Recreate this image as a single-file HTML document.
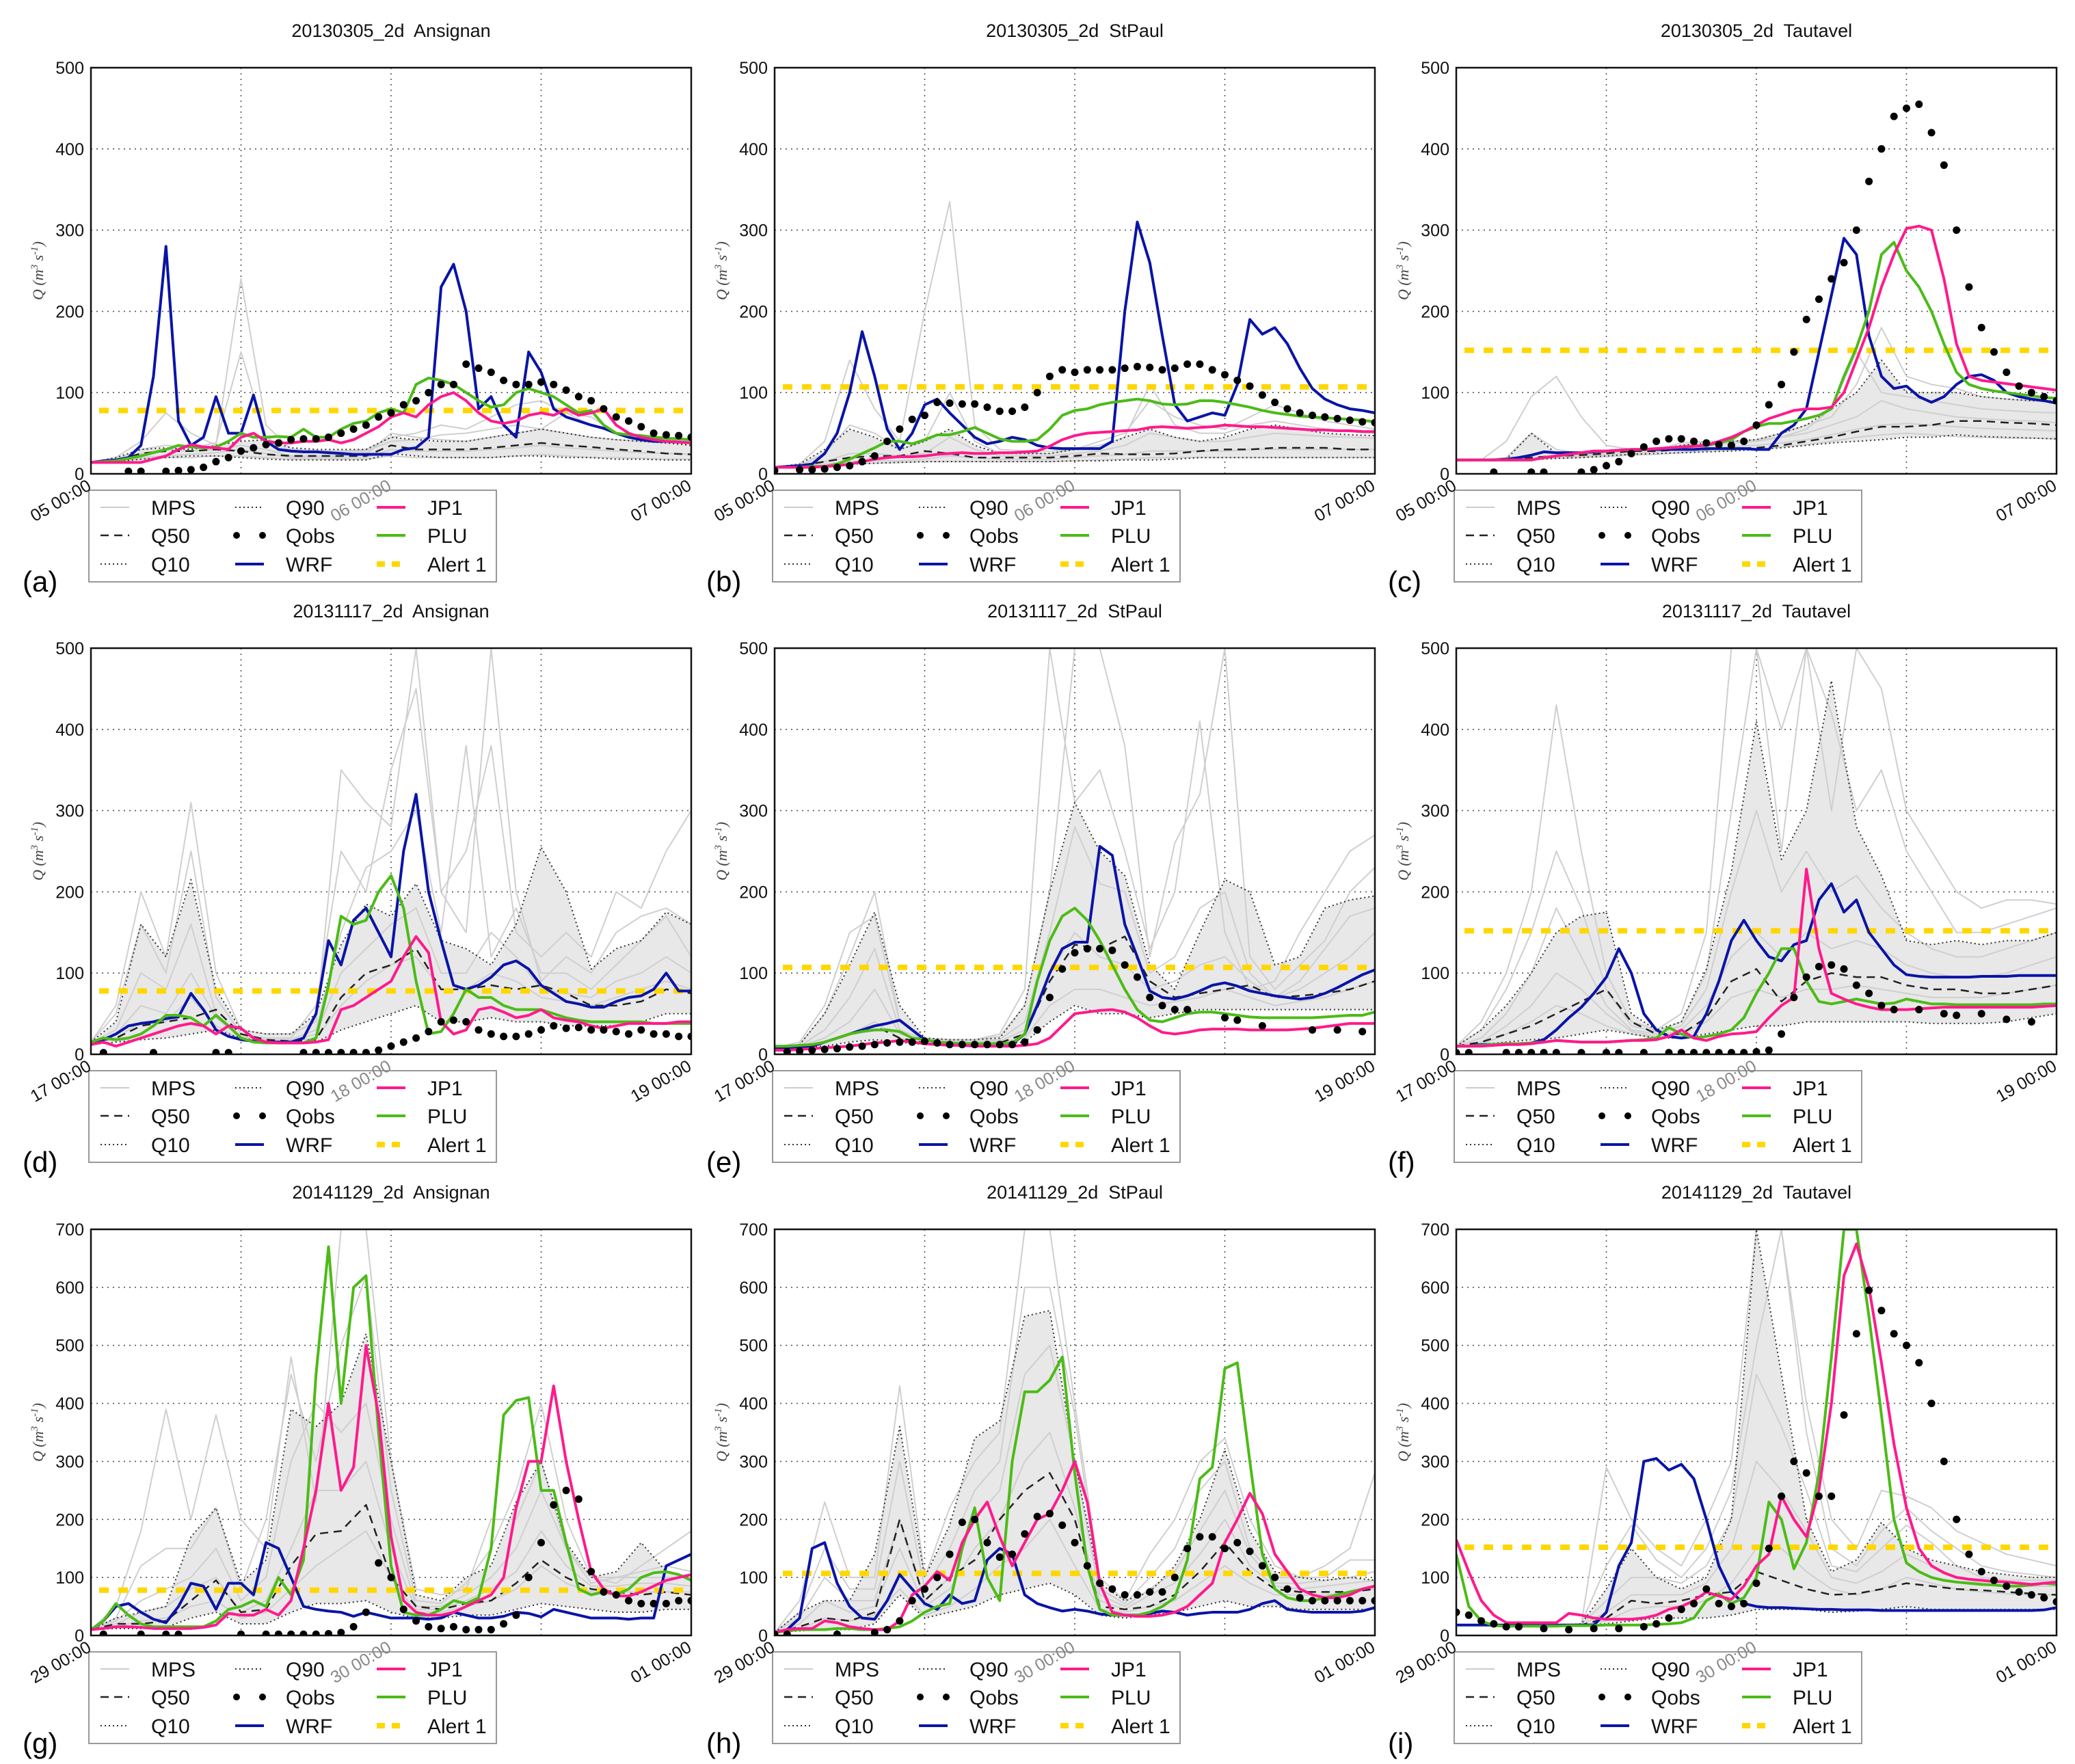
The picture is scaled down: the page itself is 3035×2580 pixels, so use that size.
<!DOCTYPE html>
<html><head><meta charset="utf-8">
<style>
html,body{margin:0;padding:0;background:#fff;}
svg{display:block;font-family:"Liberation Sans",sans-serif;}
</style></head>
<body>
<svg id="chart" xmlns="http://www.w3.org/2000/svg" width="3035" height="2580" viewBox="0 0 3035 2580"></svg>
<script>
// ---------- data (hourly lines: 49 values over 48 h; ensemble: 25 values, 2 h step) ----------
const titles = ["20130305_2d\u00a0 Ansignan","20130305_2d\u00a0 StPaul","20130305_2d\u00a0 Tautavel","20131117_2d\u00a0 Ansignan","20131117_2d\u00a0 StPaul","20131117_2d\u00a0 Tautavel","20141129_2d\u00a0 Ansignan","20141129_2d\u00a0 StPaul","20141129_2d\u00a0 Tautavel"];
const panelLabels = ["(a)","(b)","(c)","(d)","(e)","(f)","(g)","(h)","(i)"];
const xTickRows = [["05 00:00","06 00:00","07 00:00"],["17 00:00","18 00:00","19 00:00"],["29 00:00","30 00:00","01 00:00"]];
const yMaxRows = [500,500,700];
const alerts = [78,107,152,78,107,152,78,107,152];

const wrfA=[14,16,17,20,35,120,280,65,35,45,95,50,50,97,40,30,28,27,27,26,25,24,24,24,24,30,32,45,230,258,200,80,95,60,45,150,125,80,70,65,60,56,50,45,42,40,40,39,38];
const jp1A=[14,14,14,14,14,18,22,30,36,33,32,30,45,50,40,38,38,40,40,42,38,42,50,58,70,75,70,85,95,100,90,75,65,62,65,72,75,72,80,72,75,80,60,50,45,42,40,39,38];
const pluA=[14,15,16,19,22,26,30,35,33,32,33,40,50,45,45,46,45,55,45,45,55,62,65,75,80,75,110,118,115,110,100,90,82,85,100,105,100,95,85,75,78,60,50,48,47,45,44,43,42];
const obsA=[null,null,null,3,3,null,3,4,5,8,15,20,28,32,36,38,42,43,43,45,50,55,60,70,75,85,90,100,110,110,135,130,125,115,110,110,113,110,103,95,90,80,70,65,58,50,48,47,45];
const q90A=[14,20,30,32,30,35,40,42,32,30,30,30,45,42,40,40,45,50,55,50,45,42,40,38,35];
const q50A=[14,16,25,28,28,30,28,24,22,22,22,22,35,30,30,30,32,35,38,35,33,30,28,25,24];
const q10A=[14,15,18,20,22,22,20,18,17,17,17,17,25,22,20,20,20,22,22,20,20,18,18,17,17];
const mpsA=[[14,20,40,75,50,35,240,60,30,28,28,30,45,50,60,55,70,85,90,75,60,50,45,42,40],[14,18,30,35,32,38,150,45,28,27,27,28,40,42,48,50,55,60,55,50,45,42,40,38,38],[14,16,25,30,28,30,35,30,22,22,22,24,50,45,42,40,45,50,55,75,70,50,42,40,38],[14,15,20,22,24,26,30,25,20,20,20,20,30,28,28,28,30,32,35,32,30,28,26,25,24],[14,15,18,20,20,22,22,20,18,18,18,18,22,20,20,20,20,22,24,22,20,20,19,18,18]];

const wrfB=[8,9,10,12,25,50,100,175,120,55,30,50,85,92,75,60,45,37,40,45,42,35,32,31,31,31,31,40,200,310,260,170,85,65,70,75,72,110,190,172,180,160,130,105,92,85,80,78,75];
const jp1B=[8,8,8,8,9,10,12,15,18,20,21,21,22,24,25,26,25,25,26,26,27,28,34,42,47,50,51,52,53,54,57,58,57,56,57,58,60,59,58,58,57,56,55,54,54,53,53,52,52];
const pluB=[8,8,8,9,9,12,18,25,32,40,40,37,42,48,48,52,57,50,43,40,40,42,55,72,78,80,85,88,90,92,90,86,85,86,90,90,88,85,82,78,75,73,71,70,69,68,67,66,64];
const obsB=[4,null,5,5,6,8,10,15,22,40,55,67,72,88,87,86,86,82,77,77,82,100,120,128,125,128,128,128,130,132,131,128,130,135,135,128,122,115,108,97,88,80,75,72,70,68,66,64,63];
const q90B=[8,12,30,55,45,30,40,55,35,25,25,25,30,32,45,55,45,40,45,55,60,55,50,48,47];
const q50B=[8,10,15,20,22,22,28,25,20,20,20,20,22,25,24,24,25,28,30,30,32,32,32,30,30];
const q10B=[8,9,10,12,13,14,15,15,15,15,15,15,16,16,17,17,18,20,20,20,20,20,20,20,20];
const mpsB=[[8,12,40,140,80,40,200,335,60,30,28,28,30,40,50,90,70,60,55,70,85,75,65,60,55],[8,10,25,60,50,30,40,100,40,25,25,25,30,35,45,110,60,50,50,60,65,60,55,52,50],[8,9,15,25,25,22,25,45,30,22,22,22,25,28,35,50,45,40,40,45,50,48,46,45,44],[8,9,12,15,16,16,18,22,20,18,18,18,20,22,24,28,28,28,28,30,30,30,30,30,30],[8,8,10,12,13,14,15,15,15,15,15,15,16,17,18,20,20,20,20,20,20,20,20,20,20]];

const wrfC=[17,17,17,17,18,20,23,27,26,26,26,27,28,29,30,30,30,30,30,30,31,31,31,31,30,30,50,60,80,150,220,290,270,170,120,105,108,95,88,95,110,120,122,115,100,95,92,90,87];
const jp1C=[17,17,17,17,17,17,17,20,22,24,26,28,28,29,30,30,31,32,33,34,35,40,45,52,60,68,73,78,80,80,82,100,140,180,230,270,302,305,300,240,160,120,115,113,111,109,107,105,103];
const pluC=[17,17,17,17,17,17,17,20,22,24,26,28,28,29,30,30,31,32,33,34,35,38,42,52,58,62,62,65,68,72,80,120,155,200,270,285,250,230,200,160,125,110,105,102,100,98,96,94,93];
const obsC=[null,null,null,2,null,null,2,2,null,null,2,5,10,15,25,33,40,43,43,40,38,36,35,40,60,85,110,150,190,215,240,260,300,360,400,440,450,455,420,380,300,230,180,150,125,108,100,95,90];
const q90C=[17,17,18,50,25,25,27,30,30,35,38,40,42,50,60,80,100,140,100,100,100,95,92,90,90];
const q50C=[17,17,17,20,22,23,25,28,28,30,30,31,32,35,40,45,52,58,58,60,65,65,63,62,60];
const q10C=[17,17,17,18,19,20,22,24,25,26,27,28,30,32,35,38,40,42,45,45,48,46,45,44,43];
const mpsC=[[17,17,40,95,120,70,35,30,28,35,40,40,42,50,60,70,110,180,120,110,105,95,92,90,88],[17,17,20,50,30,25,27,30,30,38,40,40,42,45,55,80,150,100,95,90,85,80,78,76,75],[17,17,18,20,22,24,25,28,30,35,36,38,40,45,50,60,70,90,80,75,70,68,66,65,63],[17,17,17,18,20,22,23,25,27,30,32,33,35,38,42,48,55,60,62,60,58,56,55,54,53],[17,17,17,17,19,20,21,23,24,26,28,29,30,33,36,40,45,48,50,48,46,45,44,44,43]];

const wrfD=[15,18,25,35,38,40,44,46,75,55,30,22,18,16,15,15,15,20,50,140,110,165,180,150,120,250,320,200,140,85,80,85,95,110,115,105,85,75,65,62,58,58,65,70,72,80,100,78,78];
const jp1D=[12,15,10,15,20,25,30,35,38,35,25,35,32,20,15,14,14,14,15,18,55,60,70,80,90,120,145,125,40,25,30,55,58,52,45,48,55,45,42,40,35,32,35,38,38,38,38,40,40];
const pluD=[15,20,18,20,25,35,48,48,45,35,48,35,20,15,14,14,14,14,20,85,170,160,165,200,220,180,90,25,28,50,80,70,70,60,55,55,55,50,45,42,40,40,40,40,40,38,38,38,38];
const obsD=[null,2,null,null,null,2,null,null,null,null,2,2,null,null,null,null,null,2,2,2,2,2,2,5,10,15,20,28,40,42,40,30,25,22,22,25,30,35,32,33,30,30,28,25,30,25,25,22,22];
const q90D=[15,40,160,120,215,80,30,25,25,50,135,185,170,210,140,130,110,160,255,200,105,130,140,175,160];
const q50D=[15,20,35,40,45,55,25,18,16,18,70,100,110,130,80,80,85,80,85,75,60,60,65,80,75];
const q10D=[12,15,18,20,25,30,20,15,14,15,30,40,50,60,40,40,45,40,40,35,35,35,40,50,50];
const mpsD=[[15,60,200,120,310,100,30,25,25,40,350,310,280,500,200,250,380,150,120,150,120,200,180,250,300],[15,50,160,100,250,70,25,20,20,60,250,200,350,450,200,150,500,200,90,120,100,150,170,180,160],[15,30,100,80,160,50,22,18,18,30,150,230,250,300,150,380,120,180,100,100,80,110,140,170,120],[15,25,60,50,100,45,20,17,17,25,100,130,160,180,100,100,150,120,80,75,70,90,100,120,100],[15,20,40,40,70,35,18,16,16,20,60,90,110,120,80,80,100,90,70,65,60,70,80,90,80]];

const wrfE=[8,8,9,10,15,20,25,30,35,38,42,30,18,15,13,13,12,12,12,13,25,60,100,130,138,138,256,245,160,120,78,70,68,72,78,85,88,84,78,75,72,70,68,70,75,82,90,98,104];
const jp1E=[5,5,6,7,8,9,10,12,14,15,17,15,13,12,11,11,10,10,10,10,11,13,20,35,50,52,54,55,52,45,35,27,25,27,30,31,31,31,30,30,30,30,31,32,34,36,38,38,38];
const pluE=[10,10,11,12,15,20,25,28,30,30,28,20,18,15,14,13,13,13,13,14,25,90,140,170,180,165,140,110,80,55,42,40,45,50,52,52,50,48,46,45,45,45,45,45,46,47,48,48,52];
const obsE=[null,3,4,5,6,7,9,10,12,14,15,15,16,14,12,12,12,12,12,12,15,30,70,105,125,130,130,128,110,95,70,60,55,55,null,null,45,42,null,35,null,null,null,30,null,30,null,28,null];
const q90E=[8,12,50,110,175,60,20,18,18,20,60,200,310,250,220,110,80,150,215,200,110,120,180,190,195];
const q50E=[8,10,15,25,35,20,14,13,13,14,25,90,135,130,145,90,70,75,80,85,70,72,75,80,90];
const q10E=[8,9,10,15,18,15,12,12,12,12,15,40,60,50,50,45,50,55,55,55,55,55,55,55,55];
const mpsE=[[8,15,60,150,170,40,20,18,18,25,80,500,310,350,250,130,200,410,150,80,90,150,200,250,270],[8,12,50,120,200,40,20,18,18,22,60,200,500,500,380,120,260,320,500,120,80,110,140,200,230],[8,10,30,70,130,30,18,16,16,18,40,150,280,210,200,100,120,180,200,100,70,90,130,170,180],[8,10,20,40,80,25,16,15,15,16,30,100,150,120,110,80,90,110,120,90,70,80,100,120,150],[8,9,15,25,40,20,14,14,14,15,20,60,80,80,70,60,65,70,80,70,60,65,70,80,90]];

const wrfF=[10,10,12,12,13,13,14,18,30,45,58,75,95,130,100,50,30,22,20,22,50,90,140,165,140,120,115,135,140,190,210,175,190,150,130,110,98,96,95,95,95,95,96,96,96,97,97,97,97];
const jp1F=[10,10,10,11,12,12,13,15,17,16,15,15,15,16,17,17,18,22,30,20,17,22,25,26,28,45,60,70,228,130,75,68,62,58,55,55,55,56,57,58,58,58,58,58,58,58,58,59,60];
const pluF=[10,10,11,12,13,13,14,15,17,16,15,15,15,16,17,18,20,33,25,20,22,25,30,45,75,100,130,130,90,65,62,65,68,65,62,63,68,65,62,62,61,61,61,61,61,61,61,62,62];
const obsF=[2,2,null,null,2,2,2,2,2,null,2,null,2,2,null,2,null,2,2,2,2,2,2,2,3,5,25,70,95,108,110,105,85,75,60,55,null,55,null,50,48,null,50,null,43,null,40,null,null];
const q90F=[10,30,60,100,150,170,175,50,30,40,105,225,410,240,300,460,280,220,140,135,140,135,140,140,150];
const q50F=[10,15,25,35,50,65,80,40,25,25,45,90,105,65,90,100,95,95,85,80,80,75,75,80,85];
const q10F=[10,12,15,18,20,25,30,25,20,20,25,30,35,35,40,40,40,40,40,38,38,38,40,45,50];
const mpsF=[[10,40,100,200,430,250,100,40,30,50,150,500,500,400,500,300,500,450,300,250,200,180,190,190,185],[10,30,80,150,250,180,80,35,28,40,100,300,500,250,500,420,300,350,250,200,150,150,160,170,180],[10,20,50,100,180,120,60,30,25,35,80,200,300,200,250,200,220,180,150,130,120,120,130,140,150],[10,15,35,60,100,80,50,28,22,30,60,120,150,120,150,130,140,130,110,100,95,95,100,110,120],[10,12,25,40,60,50,35,25,20,25,40,70,80,70,80,80,85,80,75,70,70,70,75,80,85]];

const wrfG=[10,25,50,55,40,28,22,50,90,85,45,90,90,70,160,150,100,50,45,42,40,33,40,35,30,30,30,28,30,40,35,30,30,33,40,38,32,45,40,35,30,30,30,28,30,30,120,130,140];
const jp1G=[10,12,15,15,14,12,12,12,12,14,18,38,35,35,45,35,60,150,250,400,250,290,500,380,170,60,40,35,35,40,50,60,70,100,220,300,300,430,300,200,110,80,68,68,75,85,95,100,105];
const pluG=[10,25,55,35,20,15,15,15,15,15,25,45,50,60,50,100,70,130,450,670,400,600,620,350,120,40,35,35,45,60,55,65,150,380,405,410,250,250,160,80,70,75,70,80,100,108,110,105,95];
const obsG=[null,2,null,null,2,null,2,2,null,null,null,null,2,null,2,2,2,2,2,3,5,15,40,125,100,45,25,15,12,15,10,10,10,20,35,100,160,225,250,235,110,75,70,60,55,55,55,60,60];
const q90G=[10,30,40,50,170,220,90,130,390,360,400,520,300,70,60,100,120,230,300,160,100,110,160,110,100];
const q50G=[10,20,20,25,60,95,40,45,120,175,180,225,100,50,45,55,60,90,130,100,80,75,70,75,70];
const q10G=[10,12,12,14,30,40,20,20,40,55,55,60,40,30,30,35,35,45,55,50,45,40,40,45,45];
const mpsG=[[10,50,180,390,200,380,200,150,480,230,700,700,300,80,70,80,200,200,300,150,100,90,120,150,180],[10,30,120,150,150,220,80,200,450,300,500,620,250,60,55,90,150,250,400,200,100,100,110,120,110],[10,25,60,80,100,150,60,100,300,400,350,400,200,50,50,70,100,150,250,150,90,100,100,100,100],[10,20,40,50,80,100,40,60,150,250,250,300,150,45,45,60,80,110,180,120,85,85,90,90,85],[10,15,25,30,50,60,30,40,80,120,150,180,100,40,40,50,60,80,120,90,75,75,75,75,75]];

const wrfH=[5,10,30,150,160,90,50,30,28,60,105,80,55,45,70,55,60,130,150,140,70,55,48,42,45,42,37,35,35,35,38,42,40,35,38,40,40,40,45,55,60,45,42,40,40,40,40,42,48];
const jp1H=[5,10,12,12,25,22,15,12,10,10,25,70,85,110,95,160,200,230,170,120,160,200,210,250,300,230,90,40,35,33,33,35,40,50,70,90,160,200,245,210,140,110,80,70,65,65,70,80,85];
const pluH=[5,8,10,10,10,12,12,10,10,12,15,25,40,50,55,150,220,100,60,300,420,420,440,480,280,120,45,35,35,35,40,50,65,130,270,290,460,470,300,140,80,65,60,60,65,70,75,80,85];
const obsH=[2,2,null,null,null,2,null,null,5,10,25,60,80,100,140,195,200,160,135,140,175,205,210,190,160,120,90,80,70,70,75,75,100,150,170,170,150,160,145,120,100,80,65,60,60,60,60,60,60];
const q90H=[5,40,60,60,140,360,100,190,340,370,550,560,300,90,60,75,120,200,320,180,110,100,95,100,95];
const q50H=[5,15,30,25,40,200,60,100,130,200,250,280,200,50,45,50,70,110,160,110,80,75,75,75,80];
const q10H=[5,8,10,10,20,70,30,40,50,70,80,90,70,35,30,35,40,50,60,50,50,45,45,45,45];
const mpsH=[[5,60,230,100,100,430,100,220,300,350,700,700,400,100,60,140,200,300,340,200,120,100,120,150,280],[5,40,150,80,80,300,80,150,250,300,600,600,380,80,55,100,150,250,300,150,100,100,100,130,130],[5,30,100,60,60,200,60,100,200,250,450,500,300,70,50,80,110,180,250,140,90,90,95,100,110],[5,20,60,40,50,150,50,80,150,200,300,350,220,60,45,70,90,140,200,120,85,80,85,90,95],[5,10,30,25,35,80,35,50,80,120,150,200,120,45,40,50,60,90,120,90,70,70,70,75,80]];

const wrfI=[18,18,18,18,18,18,18,18,18,18,18,18,40,120,160,300,305,285,295,270,200,120,75,55,50,48,48,47,46,45,45,44,44,44,43,43,43,43,43,43,43,43,43,43,43,43,43,44,48];
const jp1I=[165,110,60,35,22,22,22,22,22,38,35,30,28,28,28,30,35,45,50,60,75,68,62,85,120,140,240,200,170,250,400,620,675,600,470,330,220,150,120,108,100,97,95,93,92,90,88,90,92];
const pluI=[140,50,25,17,16,16,16,16,16,17,17,17,18,18,18,18,19,20,22,30,60,72,55,65,100,230,200,115,160,280,480,700,700,550,380,200,125,110,100,95,92,90,88,87,85,85,87,90,88];
const obsI=[40,35,25,20,15,15,null,12,null,10,null,12,null,12,null,15,20,30,45,55,80,55,50,55,90,150,240,300,280,240,240,380,520,595,560,520,500,470,400,300,200,140,110,95,85,75,70,65,58];
const q90I=[18,18,18,18,18,20,80,150,100,80,100,200,700,450,200,110,130,195,150,130,120,110,105,100,100];
const q50I=[18,18,18,18,18,18,30,60,55,60,70,75,110,95,80,70,72,80,90,85,80,78,75,72,70];
const q10I=[18,18,18,18,18,18,20,25,30,30,30,35,45,45,45,40,42,45,50,45,45,45,45,45,45];
const mpsI=[[18,18,18,18,18,20,290,200,150,120,200,300,700,700,400,200,150,250,240,220,180,160,140,130,120],[18,18,18,18,18,20,120,190,130,100,150,250,500,700,350,150,120,180,220,180,150,120,110,105,100],[18,18,18,18,18,19,60,100,100,90,120,200,450,360,250,120,110,150,190,160,120,100,95,95,95],[18,18,18,18,18,18,40,70,70,70,90,150,300,250,180,100,90,110,140,120,100,90,85,85,85],[18,18,18,18,18,18,25,45,50,50,60,90,150,150,110,80,70,80,100,90,80,75,72,70,70]];

const wrfAll=[wrfA,wrfB,wrfC,wrfD,wrfE,wrfF,wrfG,wrfH,wrfI];
const jp1All=[jp1A,jp1B,jp1C,jp1D,jp1E,jp1F,jp1G,jp1H,jp1I];
const pluAll=[pluA,pluB,pluC,pluD,pluE,pluF,pluG,pluH,pluI];
const obsAll=[obsA,obsB,obsC,obsD,obsE,obsF,obsG,obsH,obsI];
const q90All=[q90A,q90B,q90C,q90D,q90E,q90F,q90G,q90H,q90I];
const q50All=[q50A,q50B,q50C,q50D,q50E,q50F,q50G,q50H,q50I];
const q10All=[q10A,q10B,q10C,q10D,q10E,q10F,q10G,q10H,q10I];
const mpsAll=[mpsA,mpsB,mpsC,mpsD,mpsE,mpsF,mpsG,mpsH,mpsI];

// ---------- layout ----------
const colLeft=[133,1133,2130], plotW=878;
const rowTop=[99,948,1798], plotH=594;
const NS="http://www.w3.org/2000/svg";
const svg=document.getElementById("chart");
function mk(tag,attrs,parent){const e=document.createElementNS(NS,tag);for(const k in attrs)e.setAttribute(k,attrs[k]);(parent||svg).appendChild(e);return e;}

for(let p=0;p<9;p++){
  const r=Math.floor(p/3), c=p%3;
  const L=colLeft[c], T=rowTop[r], B=T+plotH, yMax=yMaxRows[r];
  const xs=(i,n)=>L+i*plotW/(n-1);
  const ys=v=>B-v/yMax*plotH;
  const g=mk("g",{});
  
  
  const cid="clip"+p;
  const cp=mk("clipPath",{id:cid},g); mk("rect",{x:L,y:T,width:plotW,height:plotH},cp);

  const title=mk("text",{x:L+plotW/2,y:T-45,"text-anchor":"middle","font-size":27,fill:"#111"},g);
  title.textContent=titles[p];
  
  

  // grid
  for(let v=100;v<yMax;v+=100){
    const gl=mk("line",{x1:L,x2:L+plotW,y1:ys(v),y2:ys(v),stroke:"#555","stroke-width":1.6,"stroke-dasharray":"2,6"},g);
    
    
  }
  for(let k=1;k<4;k++){
    const gl=mk("line",{x1:L+plotW*k/4,x2:L+plotW*k/4,y1:T,y2:B,stroke:"#555","stroke-width":1.6,"stroke-dasharray":"2,6"},g);
    
    
  }
  const pg=mk("g",{"clip-path":`url(#${cid})`},g);
  // band Q10-Q90
  const q90=q90All[p], q10=q10All[p];
  let d="M"+q90.map((v,i)=>xs(i,q90.length)+","+ys(v)).join("L");
  for(let i=q10.length-1;i>=0;i--) d+="L"+xs(i,q10.length)+","+ys(q10[i]);
  const band=mk("path",{d:d+"Z",fill:"#e8e8e8",stroke:"none"},pg);
  
  
  const line=(arr,attrs,name)=>{
    const dd="M"+arr.map((v,i)=>xs(i,arr.length)+","+ys(v)).join("L");
    const e=mk("path",Object.assign({d:dd,fill:"none","stroke-linejoin":"round"},attrs),pg);
    
    
    return e;
  };
  mpsAll[p].forEach(m=>line(m,{stroke:"#cfcfcf","stroke-width":2},"mps-member-line"));
  line(q90,{stroke:"#333","stroke-width":2,"stroke-dasharray":"2,4"},"q90-line");
  line(q10,{stroke:"#333","stroke-width":2,"stroke-dasharray":"2,4"},"q10-line");
  line(q50All[p],{stroke:"#222","stroke-width":2.5,"stroke-dasharray":"12,8"},"q50-line");
  const al=mk("line",{x1:L+12,x2:L+plotW,y1:ys(alerts[p]),y2:ys(alerts[p]),stroke:"#ffd700","stroke-width":8,"stroke-dasharray":"14,14"},pg);
  
  
  line(wrfAll[p],{stroke:"#0a14a6","stroke-width":4},"wrf-line");
  line(pluAll[p],{stroke:"#4cbb17","stroke-width":4},"plu-line");
  line(jp1All[p],{stroke:"#ff1a8c","stroke-width":4},"jp1-line");
  const obs=obsAll[p];
  obs.forEach((v,i)=>{ if(v===null) return;
    const dot=mk("circle",{cx:xs(i,obs.length),cy:ys(v),r:5.5,fill:"#000"},pg);
    
    
  });
  const frame=mk("rect",{x:L,y:T,width:plotW,height:plotH,fill:"none",stroke:"#111","stroke-width":2.5},g);
  
  

  // y ticks
  for(let v=0;v<=yMax;v+=100){
    const t=mk("text",{x:L-10,y:ys(v)+9,"text-anchor":"end","font-size":25,fill:"#111"},g);
    t.textContent=v;
    
    
  }
  const yl=mk("text",{x:0,y:0,transform:`translate(${L-70},${T+plotH/2}) rotate(-90)`,"text-anchor":"middle","font-size":22,"font-style":"italic","font-family":"Liberation Serif, serif",fill:"#444"},g);
  yl.innerHTML='Q (m<tspan dy="-8" font-size="15">3</tspan><tspan dy="8"> s</tspan><tspan dy="-8" font-size="15">-1</tspan><tspan dy="8">)</tspan>';
  
  

  // legend
  const lg=mk("g",{},g);
  
  
  mk("rect",{x:L-3,y:B+24,width:596,height:134,fill:"#fff","fill-opacity":0.85,stroke:"#999","stroke-width":2},lg);
  const entries=[
    ["MPS",{stroke:"#ccc","stroke-width":2}],["Q50",{stroke:"#222","stroke-width":2.5,"stroke-dasharray":"12,8"}],["Q10",{stroke:"#333","stroke-width":2,"stroke-dasharray":"2,4"}],
    ["Q90",{stroke:"#333","stroke-width":2,"stroke-dasharray":"2,4"}],["Qobs",null],["WRF",{stroke:"#0a14a6","stroke-width":4}],
    ["JP1",{stroke:"#ff1a8c","stroke-width":4}],["PLU",{stroke:"#4cbb17","stroke-width":4}],["Alert 1",{stroke:"#ffd700","stroke-width":8,"stroke-dasharray":"12,10"}]];
  entries.forEach((e,k)=>{
    const col=Math.floor(k/3), row=k%3;
    const lx=L+[14,211,418][col], ty=B+[49,90,132][row];
    const eg=mk("g",{},lg);
    
    
    if(e[1]) mk("line",Object.assign({x1:lx,x2:lx+42,y1:ty,y2:ty},e[1]),eg);
    else { mk("circle",{cx:lx+2,cy:ty,r:5,fill:"#000"},eg); mk("circle",{cx:lx+40,cy:ty,r:5,fill:"#000"},eg); }
    const tt=mk("text",{x:lx+74,y:ty+11,"font-size":30,fill:"#111"},eg);
    tt.textContent=e[0];
  });
  // x ticks
  xTickRows[r].forEach((s,k)=>{
    const tx=L+plotW*k/2;
    const t=mk("text",{x:0,y:0,transform:`translate(${tx+2},${B+22}) rotate(-30)`,"text-anchor":"end","font-size":25,fill:k===1?"#888":"#111"},g);
    t.textContent=s;
    
    
  });
  const pl=mk("text",{x:L-100,y:B+172,"font-size":42,fill:"#000"},g);
  pl.textContent=panelLabels[p];
  
  
}
</script>
</body></html>
